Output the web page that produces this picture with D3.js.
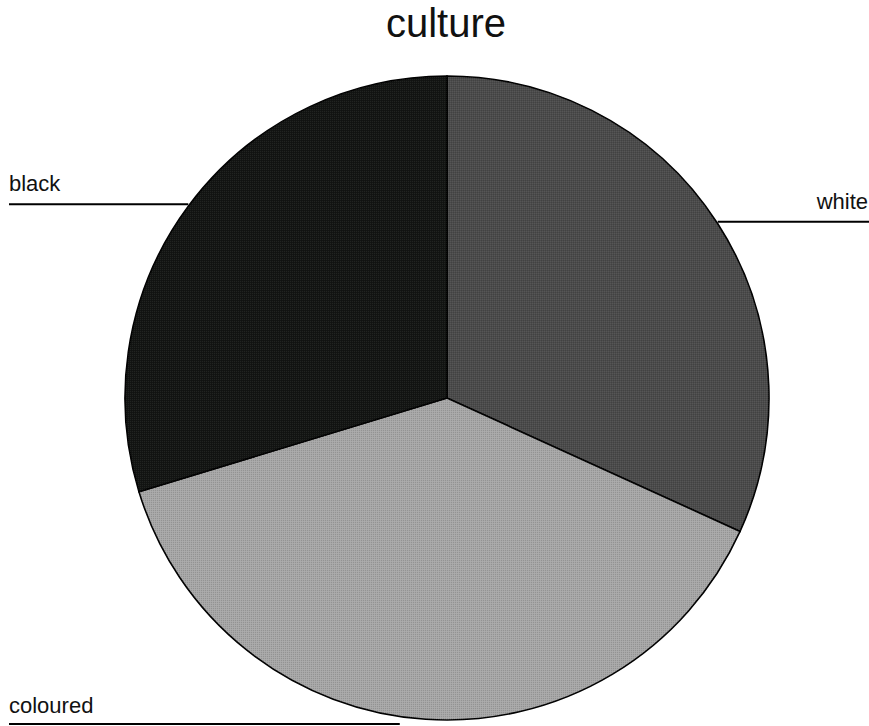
<!DOCTYPE html>
<html>
<head>
<meta charset="utf-8">
<script src="https://cdn.jsdelivr.net/npm/d3@7"></script>
<style>
  html, body { margin: 0; padding: 0; background: #fff; }
  svg { display: block; }
</style>
</head>
<body>
<svg id="chart" width="869" height="726"></svg>
<script>
// Share of respondents by culture group (percent)
const categories = ["white", "coloured", "black"];
const values = [31.8, 38.5, 29.7];
const fills = ["#4b4b4b", "#a7a7a7", "#131513"];

const svg = d3.select("#chart");
const W = 869, H = 726;
const cx = 447, cy = 398, r = 322;
const font = "Liberation Sans, Arial, sans-serif";

svg.append("text")
  .attr("x", 446).attr("y", 37)
  .attr("text-anchor", "middle")
  .style("font-family", font)
  .style("font-size", "40px")
  .attr("fill", "#111")
  .text("culture");

// Fine dither texture laid over each slice
const defs = svg.append("defs");
const pat = defs.append("pattern")
  .attr("id", "dither").attr("width", 2).attr("height", 2)
  .attr("patternUnits", "userSpaceOnUse");
pat.append("rect").attr("width", 1).attr("height", 1).attr("fill", "#000").attr("opacity", 0.12);
pat.append("rect").attr("x", 1).attr("y", 1).attr("width", 1).attr("height", 1).attr("fill", "#fff").attr("opacity", 0.06);

const data = categories.map((c, i) => ({ name: c, value: values[i], fill: fills[i] }));
const pie = d3.pie().value(d => d.value).sort(null);
const arcs = pie(data);
const arc = d3.arc().innerRadius(0).outerRadius(r);

const g = svg.append("g").attr("transform", `translate(${cx},${cy})`);
g.selectAll("path.slice").data(arcs).join("path")
  .attr("class", "slice")
  .attr("d", arc)
  .attr("fill", d => d.data.fill)
  .attr("stroke", "#000").attr("stroke-width", 1.6);
g.selectAll("path.tex").data(arcs).join("path")
  .attr("class", "tex")
  .attr("d", arc)
  .attr("fill", "url(#dither)");

// Horizontal leader lines from each slice's mid-angle on the rim
arcs.forEach(a => {
  const mid = (a.startAngle + a.endAngle) / 2;
  const px = cx + r * Math.sin(mid);
  const py = cy - r * Math.cos(mid);
  const right = Math.sin(mid) > 0;
  const isBottom = a.data.name === "coloured";
  const y = isBottom ? H - 2 : py - 2;
  const x2 = right ? W : 9;
  svg.append("line")
    .attr("x1", isBottom ? px - 26 : px).attr("y1", y)
    .attr("x2", x2).attr("y2", y)
    .attr("stroke", "#000").attr("stroke-width", 2);
  svg.append("text")
    .attr("x", right ? W - 1 : 9)
    .attr("y", y - (isBottom ? 11 : 13))
    .attr("text-anchor", right ? "end" : "start")
    .style("font-family", font)
    .style("font-size", "22px")
    .attr("fill", "#111")
    .text(a.data.name);
});
</script>
</body>
</html>
